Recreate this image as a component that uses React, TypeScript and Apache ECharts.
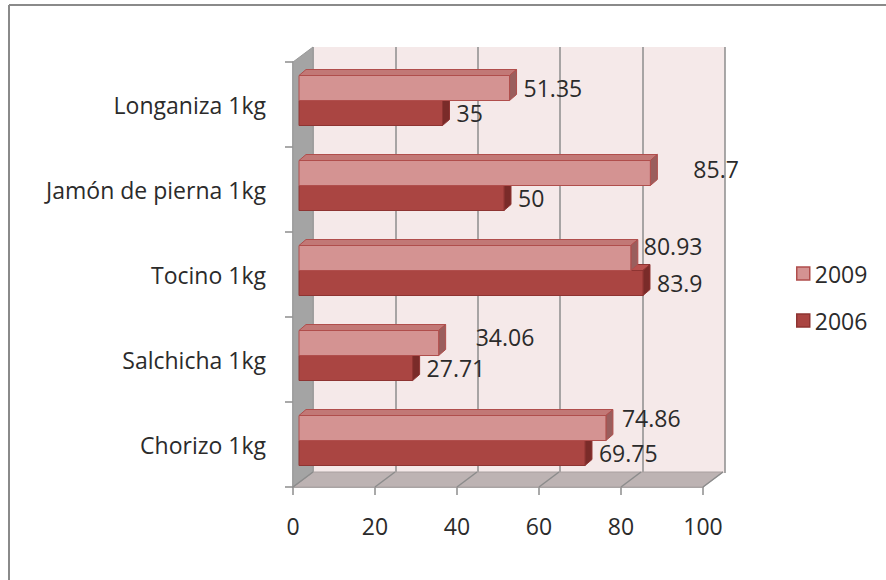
import React, { useEffect, useRef } from "react";
import * as echarts from "echarts";

const categories = ["Longaniza 1kg", "Jamón de pierna 1kg", "Tocino 1kg", "Salchicha 1kg", "Chorizo 1kg"];
const values2009 = [51.35, 85.7, 80.93, 34.06, 74.86];
const values2006 = [35, 50, 83.9, 27.71, 69.75];
const xTicks = [0, 20, 40, 60, 80, 100];
// label nudges (px) reproducing the reference's label placement
const label2009dx = [0, 29, -1, 23, 2];
const label2009dy = [0, -4, -12, -6, -10];

const FONT = "Open Sans";
const FS = 23;
const TXT = "#2b2b2b";

// layout
const GL = 293, GT = 62, GW = 410, GH = 425;
const DX = 20, DY = -15; // wall depth offset
const BX = 6; // bar plane offset
const PX = 7, PY = -6; // bar depth

const C09 = { front: "#D49392", top: "#C27876", side: "#9A5E5D", stroke: "#B04E4C" };
const C06 = { front: "#AA4542", top: "#B9504E", side: "#7A2B29", stroke: "#8E3432" };

function makeRender(which: "2009" | "2006") {
  const col = which === "2009" ? C09 : C06;
  return (params: any, api: any) => {
    const v = api.value(0);
    const c = api.value(1);
    const idx = params.dataIndex;
    const p0 = api.coord([0, c]);
    const p1 = api.coord([v, c]);
    const cy = p0[1];
    const bh = 25;
    const y0 = which === "2009" ? cy - 29 : cy - 4;
    const y1 = y0 + bh;
    const x0 = p0[0] + BX;
    const x1 = p1[0] + BX;
    const lineW = 1;
    const children: any[] = [
      {
        type: "polygon",
        shape: { points: [[x0, y0], [x0 + PX, y0 + PY], [x1 + PX, y0 + PY], [x1, y0]] },
        style: { fill: col.top, stroke: col.stroke, lineWidth: lineW },
      },
      {
        type: "polygon",
        shape: { points: [[x1, y0], [x1 + PX, y0 + PY], [x1 + PX, y1 + PY], [x1, y1]] },
        style: { fill: col.side, stroke: col.stroke, lineWidth: lineW },
      },
      {
        type: "rect",
        shape: { x: x0, y: y0, width: x1 - x0, height: bh },
        style: { fill: col.front, stroke: col.stroke, lineWidth: lineW },
      },
    ];
    const ldx = which === "2009" ? label2009dx[idx] : 0;
    const ldy = which === "2009" ? label2009dy[idx] : 0;
    children.push({
      type: "text",
      style: {
        text: String(v),
        x: x1 + PX + 7 + ldx,
        y: (y0 + y1) / 2 + ldy,
        align: "left",
        verticalAlign: "middle",
        fill: TXT,
        font: `${FS}px "${FONT}"`,
      },
    });
    return { type: "group", children };
  };
}

export default function App() {
  const ref = useRef<HTMLDivElement>(null);
  useEffect(() => {
    if (!ref.current) return;
    const chart = echarts.init(ref.current, undefined, { renderer: "svg" });

    const floorLines = xTicks.map((t) => {
      const fx = GL + (t / 100) * GW;
      return {
        type: "line",
        shape: { x1: fx, y1: GT + GH, x2: fx + DX, y2: GT + GH + DY },
        style: { stroke: "#8C8C8C", lineWidth: 1.5 },
        z: 1,
      };
    });

    const option: any = {
      animation: false,
      backgroundColor: "#ffffff",
      textStyle: { fontFamily: FONT },
      grid: [
        { left: GL, top: GT, width: GW, height: GH, containLabel: false },
        {
          left: GL + DX, top: GT + DY, width: GW + 2, height: GH + 1,
          show: true, backgroundColor: "#F5E9E9", borderWidth: 0, z: 0,
        },
      ],
      xAxis: [
        {
          type: "value", gridIndex: 0, min: 0, max: 100, interval: 20,
          axisLine: { show: true, lineStyle: { color: "#8C8C8C", width: 1.5 } },
          axisTick: { show: true, length: 8, lineStyle: { color: "#8C8C8C", width: 1.5 } },
          axisLabel: { fontSize: FS, fontFamily: FONT, color: TXT, margin: 27 },
          splitLine: { show: false },
        },
        {
          type: "value", gridIndex: 1, min: 0, max: 100, interval: 20,
          axisLine: { show: false }, axisTick: { show: false }, axisLabel: { show: false },
          splitLine: { show: true, lineStyle: { color: "#8C8C8C", width: 1.5 } },
        },
      ],
      yAxis: [
        {
          type: "category", gridIndex: 0, data: categories, inverse: true,
          axisLine: { show: true, lineStyle: { color: "#8C8C8C", width: 1.5 } },
          axisTick: { show: true, length: 8, lineStyle: { color: "#8C8C8C", width: 1.5 } },
          axisLabel: { fontSize: FS, fontFamily: FONT, color: TXT, margin: 27 },
          splitLine: { show: false },
        },
        {
          type: "category", gridIndex: 1, data: categories, inverse: true, show: false,
        },
      ],
      legend: {
        orient: "vertical",
        left: 791,
        top: 257,
        itemWidth: 13,
        itemHeight: 13,
        itemGap: 24,
        icon: "rect",
        textStyle: { fontSize: FS, fontFamily: FONT, color: TXT, padding: [0, 0, 0, 0] },
        data: [
          { name: "2009", itemStyle: { color: C09.front, borderColor: C09.stroke, borderWidth: 1.5 } },
          { name: "2006", itemStyle: { color: C06.front, borderColor: C06.stroke, borderWidth: 1.5 } },
        ],
      },
      graphic: [
        // outer border (top & left)
        { type: "line", shape: { x1: 9, y1: 5, x2: 886, y2: 5 }, style: { stroke: "#8A8A8A", lineWidth: 2 } },
        { type: "line", shape: { x1: 9, y1: 5, x2: 9, y2: 580 }, style: { stroke: "#8A8A8A", lineWidth: 2 } },
        // floor
        {
          type: "polygon",
          shape: { points: [[GL, GT + GH], [GL + GW, GT + GH], [GL + GW + DX, GT + GH + DY], [GL + DX, GT + GH + DY]] },
          style: { fill: "#BDB3B3", stroke: "#A9A0A0", lineWidth: 1 },
          z: 1,
        },
        // side wall
        {
          type: "polygon",
          shape: { points: [[GL, GT], [GL + DX, GT + DY], [GL + DX, GT + GH + DY], [GL, GT + GH]] },
          style: { fill: "#A4A4A4", stroke: "#999999", lineWidth: 1 },
          z: 1,
        },
        ...floorLines,
      ],
      series: [
        {
          name: "2006", type: "custom", xAxisIndex: 0, yAxisIndex: 0,
          renderItem: makeRender("2006"),
          itemStyle: { color: C06.front, borderColor: C06.stroke },
          encode: { x: 0, y: 1 },
          data: values2006.map((v, i) => [v, i]),
          z: 3,
        },
        {
          name: "2009", type: "custom", xAxisIndex: 0, yAxisIndex: 0,
          renderItem: makeRender("2009"),
          itemStyle: { color: C09.front, borderColor: C09.stroke },
          encode: { x: 0, y: 1 },
          data: values2009.map((v, i) => [v, i]),
          z: 4,
        },
      ],
    };
    chart.setOption(option);
    return () => chart.dispose();
  }, []);
  return (
    <div
      ref={ref}
      style={{ position: "fixed", left: 0, top: 0, width: 886, height: 580, background: "#fff" }}
    />
  );
}
